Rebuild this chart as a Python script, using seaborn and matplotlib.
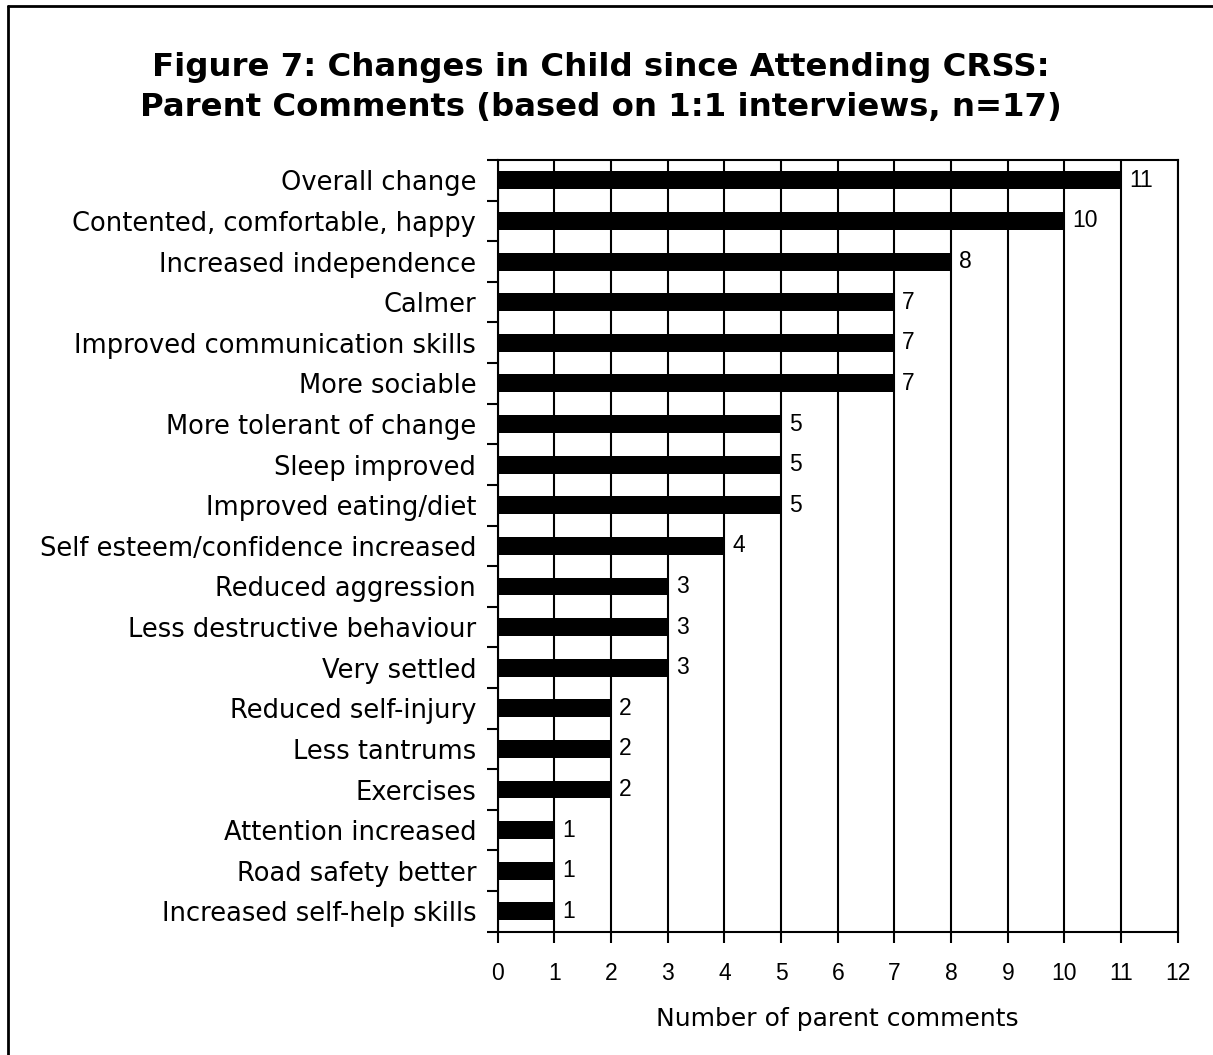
import matplotlib
matplotlib.use("Agg")
import matplotlib.pyplot as plt
import seaborn as sns
import pandas as pd
from matplotlib.lines import Line2D
from matplotlib.ticker import FixedLocator

categories = [
    "Overall change",
    "Contented, comfortable, happy",
    "Increased independence",
    "Calmer",
    "Improved communication skills",
    "More sociable",
    "More tolerant of change",
    "Sleep improved",
    "Improved eating/diet",
    "Self esteem/confidence increased",
    "Reduced aggression",
    "Less destructive behaviour",
    "Very settled",
    "Reduced self-injury",
    "Less tantrums",
    "Exercises",
    "Attention increased",
    "Road safety better",
    "Increased self-help skills",
]
counts = [11, 10, 8, 7, 7, 7, 5, 5, 5, 4, 3, 3, 3, 2, 2, 2, 1, 1, 1]
x_ticks = list(range(0, 13))

title = "Figure 7: Changes in Child since Attending CRSS:\nParent Comments (based on 1:1 interviews, n=17)"
xlabel = "Number of parent comments"

sns.set_style("white")
plt.rcParams["font.family"] = ["DejaVu Sans"]
plt.rcParams["text.color"] = "black"
plt.rcParams["axes.labelcolor"] = "black"
plt.rcParams["xtick.color"] = "black"
plt.rcParams["ytick.color"] = "black"
num_font = ["Liberation Sans", "DejaVu Sans"]

df = pd.DataFrame({"category": categories, "count": counts})

fig = plt.figure(figsize=(12.13, 10.55), dpi=100)
ax = fig.add_axes([0.4103, 0.1169, 0.971 - 0.4103, 0.8483 - 0.1169])

sns.barplot(data=df, x="count", y="category", orient="h", color="black",
            width=0.44, ax=ax, saturation=1, linewidth=0, zorder=3)

ax.set_xlim(0, 12)
ax.set_ylim(len(categories) - 0.5, -0.5)
ax.set_xticks(x_ticks)
ax.set_xticklabels([str(t) for t in x_ticks], fontsize=16.5, family=num_font,
                   color="black")
ax.tick_params(axis="x", bottom=True, direction="out", length=8, width=1.5,
               color="black", pad=14)

ax.tick_params(axis="y", which="major", left=True, length=0, pad=15.5,
               labelsize=18.5, labelcolor="black")
ax.yaxis.set_minor_locator(FixedLocator([i - 0.5 for i in range(len(categories) + 1)]))
ax.tick_params(axis="y", which="minor", left=True, direction="out", length=8,
               width=1.5, color="black")

ax.grid(axis="x", color="black", linewidth=1.5, zorder=0)
ax.set_axisbelow(True)
for s in ax.spines.values():
    s.set_visible(True)
    s.set_color("black")
    s.set_linewidth(1.5)

ax.set_ylabel("")
ax.set_xlabel(xlabel, fontsize=18, labelpad=16, color="black")

for i, v in enumerate(counts):
    ax.text(v + 0.14, i, str(v), va="center", ha="left", fontsize=16.5,
            family=num_font, color="black")

fig.text(0.495, 0.917, title, ha="center", va="center", fontsize=23.3,
         fontweight="bold", linespacing=1.4, color="black")

# figure border (left and top visible)
fig.add_artist(Line2D([8 / 1213, 8 / 1213], [0, 1 - 6 / 1055],
                      transform=fig.transFigure, color="black", lw=2))
fig.add_artist(Line2D([8 / 1213, 1], [1 - 6 / 1055, 1 - 6 / 1055],
                      transform=fig.transFigure, color="black", lw=2))

fig.savefig("out.png", dpi=100, facecolor="white")
